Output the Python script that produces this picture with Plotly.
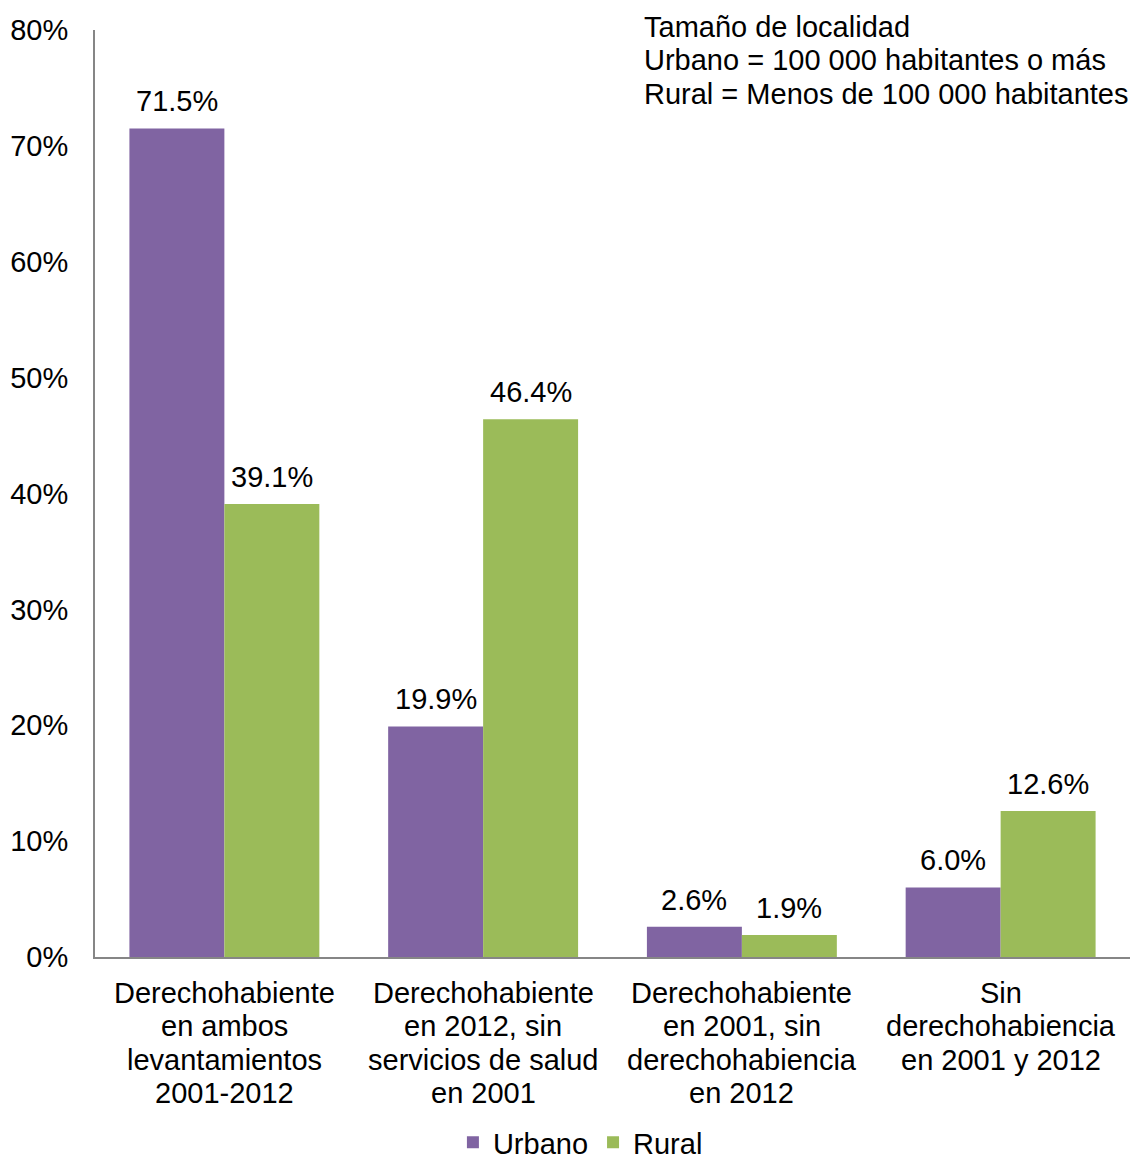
import plotly.graph_objects as go

categories = [
    "Derechohabiente<br>en ambos<br>levantamientos<br>2001-2012",
    "Derechohabiente<br>en 2012, sin<br>servicios de salud<br>en 2001",
    "Derechohabiente<br>en 2001, sin<br>derechohabiencia<br>en 2012",
    "Sin<br>derechohabiencia<br>en 2001 y 2012",
]
urbano = [71.5, 19.9, 2.6, 6.0]
rural = [39.1, 46.4, 1.9, 12.6]
y_ticks = [0, 10, 20, 30, 40, 50, 60, 70, 80]
y_ticklabels = [f"{v}%" for v in y_ticks]
note_lines = [
    "Tamaño de localidad",
    "Urbano = 100 000 habitantes o más",
    "Rural = Menos de 100 000 habitantes",
]

FONT = "Liberation Sans, Arial, sans-serif"
FS = 29
LINE = 33.4
BARGAP = 0.266
x = list(range(len(categories)))
bar_w = (1 - BARGAP) / 2

fig = go.Figure()
fig.add_trace(go.Bar(x=x, y=urbano, name="Urbano", marker_color="#8064A2",
                     marker_line_width=0))
fig.add_trace(go.Bar(x=x, y=rural, name="Rural", marker_color="#9BBB59",
                     marker_line_width=0))

annotations = []
# data labels
for series, off in ((urbano, -bar_w / 2), (rural, bar_w / 2)):
    for i, v in enumerate(series):
        annotations.append(dict(
            x=i + off, y=v, xref="x", yref="y", text=f"{v:.1f}%",
            showarrow=False, yanchor="middle", xanchor="center", yshift=27,
            font=dict(size=FS, color="black", family=FONT)))
# category labels (line by line)
for i, cat in enumerate(categories):
    for j, line in enumerate(cat.split("<br>")):
        annotations.append(dict(
            x=i, y=0, xref="x", yref="paper", text=line, showarrow=False,
            xanchor="center", yanchor="middle", yshift=-(36 + j * LINE),
            font=dict(size=FS, color="black", family=FONT)))
# note top-right
for j, line in enumerate(note_lines):
    annotations.append(dict(
        x=(642 - 95) / 1035, y=1, xref="paper", yref="paper", text=line,
        showarrow=False, xanchor="left", yanchor="middle", yshift=3 - j * LINE,
        font=dict(size=FS, color="black", family=FONT)))

fig.update_layout(
    width=1130, height=1161,
    margin=dict(l=95, r=0, t=30, b=204, autoexpand=False),
    paper_bgcolor="white", plot_bgcolor="white",
    font=dict(family=FONT, size=FS, color="black"),
    barmode="group", bargap=BARGAP, bargroupgap=0,
    legend=dict(orientation="h", x=0.469, xref="paper", xanchor="center",
                y=-0.2, yanchor="middle", font=dict(size=FS), itemwidth=30,
                traceorder="normal"),
    xaxis=dict(tickmode="array", tickvals=x, ticktext=["" for _ in x],
               range=[-0.5, 3.5], showline=True, linecolor="#868686", linewidth=2,
               showgrid=False, ticks="", zeroline=False),
    yaxis=dict(tickmode="array", tickvals=y_ticks, ticktext=y_ticklabels,
               range=[0, 80], showline=True, linecolor="#868686", linewidth=2,
               showgrid=False, ticks="", ticklabelstandoff=19, zeroline=False,
               tickfont=dict(size=FS)),
    annotations=annotations,
)

fig.write_html("out.html", config={"displayModeBar": False},
               post_script="document.body.style.margin='0';")
